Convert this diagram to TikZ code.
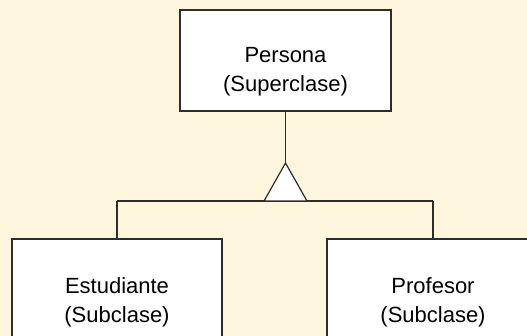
\documentclass[tikz,border=0pt]{standalone}
\usepackage{fontspec}
\setmainfont{Liberation Sans}
\definecolor{paper}{RGB}{253,246,220}
\definecolor{edge}{RGB}{45,45,45}
\begin{document}
\begin{tikzpicture}[x=1pt,y=-1pt,
  classbox/.style={draw=edge,line width=1.3pt,fill=white,rectangle,inner sep=0pt},
  classtext/.style={font=\fontsize{22}{29}\selectfont,align=center,anchor=base,inner sep=0pt},
  link/.style={draw=edge,line width=1.2pt}]
  \useasboundingbox (0,0) rectangle (527,336);
  \clip (0,0) rectangle (527,336);
  \fill[paper] (0,0) rectangle (527,336);

  % class boxes
  \node[classbox,minimum width=211pt,minimum height=101pt] (persona) at (285.5,60.5) {};
  \node[classbox,minimum width=210pt,minimum height=160pt] (estudiante) at (117,319) {};
  \node[classbox,minimum width=212pt,minimum height=160pt] (profesor) at (433,319) {};

  % class names
  \node[classtext] (tpersona) at (285.5,91.5) {Persona\\(Superclase)};
  \node[classtext] (testudiante) at (117,323) {Estudiante\\(Subclase)};
  \node[classtext] (tprofesor) at (433,323) {Profesor\\(Subclase)};

  % generalization: triangle and branch lines
  \coordinate (apex) at (285.5,163);
  \coordinate (bl) at (264,201);
  \coordinate (br) at (307,201);
  \coordinate (joinL) at (117,201);
  \coordinate (joinR) at (433,201);
  \draw[link] (persona.south) -- (apex);
  \draw[link] (joinL) -- (joinR);
  \draw[link] (joinL) -- (estudiante.north);
  \draw[link] (joinR) -- (profesor.north);
  \draw[link,fill=white,line join=miter] (apex) -- (bl) -- (br) -- cycle;
\end{tikzpicture}
\end{document}
